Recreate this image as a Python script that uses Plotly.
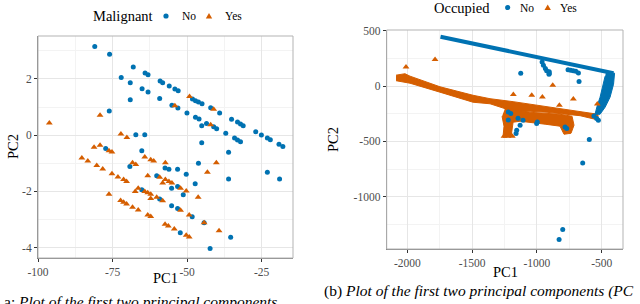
import plotly.graph_objects as go

# ---------------- Left panel data (Malignant) ----------------
mal_no_x = [-80.97, -76.0, -68.06, -72.1, -64.1, -63.1, -69.07, -65.1, -63.1, -59.06, -58.2, -59.2,
            -69.07, -76.1, -67.2, -64.2, -77.3, -56.0, -54.1, -53.0, -48.2, -47.2, -46.2, -45.0,
            -55.1, -53.1, -50.06, -47.2, -46.0, -42.1, -39.1, -45.1, -43.5, -41.1, -40.1, -35.1,
            -33.1, -32.1, -31.2, -37.05, -34.1, -33.1, -32.1, -27.0, -25.1, -23.1, -22.1, -19.2,
            -17.9, -45.1, -65.2, -69.2, -60.2, -57.4, -65.2, -59.2, -36.1, -46.2, -56.1, -53.2,
            -50.3, -36.1, -23.1, -19.0, -55.2, -53.2, -47.3, -51.3, -55.2, -53.2, -48.3, -44.3,
            -52.3, -35.4, -42.3]
mal_no_y = [3.16, 2.88, 2.43, 2.05, 2.21, 2.15, 1.87, 1.65, 1.54, 1.93, 1.87, 1.31,
            1.26, 0.86, 0.02, 0.02, -0.47, 1.75, 1.64, 1.58, 1.29, 1.23, 1.18, 1.12,
            1.07, 0.97, 0.79, 0.64, 0.58, 0.98, 0.79, 0.34, 0.42, 0.30, 0.23, 0.57,
            0.47, 0.40, 0.34, 0.07, -0.10, -0.17, -0.23, 0.12, 0.01, -0.10, -0.16, -0.32,
            -0.40, -0.27, -0.55, -1.11, -1.44, -1.17, -1.94, -2.27, -0.61, -1.00, -1.21, -1.21,
            -1.39, -1.56, -1.32, -1.56, -1.89, -1.83, -1.73, -2.12, -2.51, -2.61, -2.90, -3.12,
            -3.47, -3.63, -4.03]
mal_yes_x = [-96.2, -79.2, -72.2, -70.2, -81.2, -79.2, -49.2, -54.1, -41.1, -42.1, -76.2, -75.2,
             -64.2, -85.3, -83.3, -80.3, -78.3, -68.3, -67.2, -62.2, -61.2, -75.2, -73.2, -71.3,
             -70.3, -63.2, -59.2, -66.4, -67.4, -64.2, -63.2, -62.2, -62.2, -76.2, -72.3, -71.3,
             -70.3, -68.3, -66.4, -60.2, -63.2, -62.2, -57.4, -40.2, -43.2, -57.3, -58.2, -57.3,
             -56.1, -55.1, -52.2, -50.3, -46.3, -58.2, -52.2, -49.3, -44.3, -39.3, -56.3, -54.3,
             -50.3, -49.3]
mal_yes_y = [0.43, 0.71, 0.04, -0.08, -0.43, -0.36, 1.38, 1.05, 0.92, 0.37, -0.55, -0.60,
             -0.78, -0.81, -0.92, -1.08, -1.20, -0.98, -1.04, -0.87, -0.92, -1.37, -1.49, -1.58,
             -1.65, -1.44, -1.50, -1.89, -2.00, -2.00, -2.05, -2.10, -2.25, -2.10, -2.32, -2.39,
             -2.45, -2.56, -2.66, -2.21, -2.84, -2.89, -3.17, -0.98, -1.32, -0.98, -1.70, -1.58,
             -1.65, -1.70, -1.89, -1.99, -2.21, -2.33, -2.67, -2.84, -3.12, -3.40, -3.23, -3.34,
             -3.56, -3.62]

# ---------------- Right panel data (Occupied) ----------------
# dense bands traced as outlines
occ_no_band_x = [-1744, -409]
occ_no_band_y = [448, 118]
occ_no_vert_x = [-467, -401, -409, -436, -474, -513, -552, -548, -536, -513, -490, -474]
occ_no_vert_y = [127, 118, 18, -100, -190, -254, -254, -226, -181, -100, 18, 91]
occ_yes_band_x = [-2087, -2056, -2018, -1979, -1748, -1493, -1362, -1184, -922, -667, -567, -529,
                  -529, -552, -667, -922, -1053, -1184, -1362, -1493, -1748, -1979, -2087]
occ_yes_band_y = [100, 109, 113, 91, -5, -82, -113, -140, -186, -231, -245, -254,
                  -303, -299, -267, -236, -227, -227, -159, -145, -54, 27, 50]
occ_yes_blob_x = [-1246, -1053, -822, -729, -714, -737, -791, -822, -937, -1069, -1130, -1184,
                  -1192, -1200, -1262, -1254, -1269]
occ_yes_blob_y = [-199, -236, -254, -272, -353, -426, -435, -362, -344, -326, -317, -326,
                  -399, -462, -462, -362, -272]
# individual points
occ_no_x = [-1125, -907, -675, -960, -950, -935, -925, -905, -905, -760, -740, -720, -700, -680,
            -1221, -1221, -1156, -1161, -1146, -1130, -1107, -1002, -997, -783, -770, -596,
            -526, -560, -539, -1202, -647, -801, -829]
occ_no_y = [118, 109, 43, 220, 190, 160, 140, 130, 115, 150, 145, 140, 135, 120,
            -233, -305, -398, -429, -290, -353, -308, -338, -323, -369, -383, -483,
            -308, -270, -293, -247, -695, -1298, -1389]
occ_yes_x = [-2010, -1786, -1182, -1040, -958, -878, -719, -827, -534, -1254, -1190]
occ_yes_y = [175, 242, -75, -82, -97, 9, -115, -173, -160, -453, -453]

# ---------------- Axis ticks ----------------
l_xticks = [-100, -75, -50, -25]
l_yticks = [-4, -2, 0, 2]
r_xticks = [-2000, -1500, -1000, -500]
r_yticks = [-1000, -500, 0, 500]

BLUE = "#0072B2"
ORANGE = "#D55E00"
FONT = "Liberation Serif"

fig = go.Figure()

# Left panel
fig.add_trace(go.Scatter(x=mal_no_x, y=mal_no_y, mode="markers", name="No",
                         marker=dict(color=BLUE, size=5, symbol="circle"),
                         xaxis="x", yaxis="y", showlegend=False))
fig.add_trace(go.Scatter(x=mal_yes_x, y=mal_yes_y, mode="markers", name="Yes",
                         marker=dict(color=ORANGE, size=6, symbol="triangle-up"),
                         xaxis="x", yaxis="y", showlegend=False))

# Right panel
fig.add_trace(go.Scatter(x=occ_yes_band_x, y=occ_yes_band_y, mode="lines", fill="toself",
                         fillcolor=ORANGE, line=dict(color=ORANGE, width=1),
                         showlegend=False, hoverinfo="skip", xaxis="x2", yaxis="y2"))
fig.add_trace(go.Scatter(x=occ_yes_blob_x, y=occ_yes_blob_y, mode="lines", fill="toself",
                         fillcolor=ORANGE, line=dict(color=ORANGE, width=1),
                         showlegend=False, hoverinfo="skip", xaxis="x2", yaxis="y2"))
fig.add_trace(go.Scatter(x=occ_no_band_x, y=occ_no_band_y, mode="lines",
                         line=dict(color=BLUE, width=4),
                         showlegend=False, hoverinfo="skip", xaxis="x2", yaxis="y2"))
fig.add_trace(go.Scatter(x=occ_no_vert_x, y=occ_no_vert_y, mode="lines", fill="toself",
                         fillcolor=BLUE, line=dict(color=BLUE, width=1),
                         showlegend=False, hoverinfo="skip", xaxis="x2", yaxis="y2"))
fig.add_trace(go.Scatter(x=occ_no_x, y=occ_no_y, mode="markers", name="No",
                         marker=dict(color=BLUE, size=5, symbol="circle"),
                         xaxis="x2", yaxis="y2", showlegend=False))
fig.add_trace(go.Scatter(x=occ_yes_x, y=occ_yes_y, mode="markers", name="Yes",
                         marker=dict(color=ORANGE, size=6, symbol="triangle-up"),
                         xaxis="x2", yaxis="y2", showlegend=False))

W, H = 640, 304
def px(v): return v / W
def py(v): return 1 - v / H

axis_common = dict(showline=True, linecolor="#7f7f7f", linewidth=1, ticks="outside",
                   ticklen=3, tickcolor="#333333", tickwidth=1,
                   showgrid=True, gridcolor="#e6e6e6", gridwidth=1, zeroline=False,
                   tickfont=dict(family=FONT, size=11.5, color="#4d4d4d"))

def minor(d, t0):
    return dict(showgrid=True, gridcolor="#f3f3f3", gridwidth=1, dtick=d, tick0=t0)

# manual legend keys (symbols drawn as shapes in paper space)
def circle_key(cx, cy, r=2.6, color=BLUE):
    return dict(type="circle", xref="paper", yref="paper",
                x0=px(cx - r), x1=px(cx + r), y0=py(cy + r), y1=py(cy - r),
                fillcolor=color, line=dict(width=0))

def tri_key(cx, cy, s=3.2, color=ORANGE):
    path = "M {:.5f} {:.5f} L {:.5f} {:.5f} L {:.5f} {:.5f} Z".format(
        px(cx - s), py(cy + s * 0.8), px(cx + s), py(cy + s * 0.8), px(cx), py(cy - s * 0.9))
    return dict(type="path", xref="paper", yref="paper", path=path,
                fillcolor=color, line=dict(width=0))

def text(t, x, y, size, xanchor="left", angle=0, color="black"):
    return dict(text=t, xref="paper", yref="paper", x=px(x), y=py(y), showarrow=False,
                font=dict(family=FONT, size=size, color=color), xanchor=xanchor,
                yanchor="middle", textangle=angle)

fig.update_layout(
    width=W, height=H, margin=dict(l=0, r=0, t=0, b=0, autoexpand=False),
    paper_bgcolor="white", plot_bgcolor="white", showlegend=False,
    font=dict(family=FONT, color="black"),
    xaxis=dict(domain=[px(38), px(293)], range=[-100, -14.5], anchor="y",
               tickvals=l_xticks, ticktext=[str(v) for v in l_xticks],
               minor=minor(12.5, -100), **axis_common),
    yaxis=dict(domain=[py(258), py(36)], range=[-4.37, 3.53], anchor="x",
               tickvals=l_yticks, ticktext=[str(v) for v in l_yticks],
               minor=minor(1, -5), **axis_common),
    xaxis2=dict(domain=[px(386.7), px(623)], range=[-2159, -336], anchor="y2",
                tickvals=r_xticks, ticktext=[str(v) for v in r_xticks],
                minor=minor(250, -2000), **axis_common),
    yaxis2=dict(domain=[py(249), py(30)], range=[-1474, 509], anchor="x2",
                tickvals=r_yticks, ticktext=[str(v) for v in r_yticks],
                minor=minor(250, -1000), **axis_common),
    shapes=[
        dict(type="rect", xref="paper", yref="paper", x0=px(38), x1=px(293), y0=py(258), y1=py(36),
             line=dict(color="#b3b3b3", width=1), layer="above"),
        dict(type="rect", xref="paper", yref="paper", x0=px(386.7), x1=px(623), y0=py(249), y1=py(30),
             line=dict(color="#b3b3b3", width=1), layer="above"),
        circle_key(166, 16), tri_key(209, 16),
        circle_key(507.7, 7.5), tri_key(547.7, 7.5),
    ],
    annotations=[
        text("Malignant", 91, 16, 14.5),
        text("No", 179.5, 16, 11.5),
        text("Yes", 222.5, 16, 11.5),
        text("Occupied", 432, 7.5, 14.5),
        text("No", 517.5, 7.5, 11.5),
        text("Yes", 557.5, 7.5, 11.5),
        text("PC1", 165.5, 278, 14.5, xanchor="center"),
        text("PC2", 13, 147, 14.5, xanchor="center", angle=-90),
        text("PC1", 505, 271.5, 14.5, xanchor="center"),
        text("PC2", 333, 140, 14.5, xanchor="center", angle=-90),
        text("a: <i>Plot of the first two principal components</i>", 2, 301, 15.5),
        text("(b) <i>Plot of the first two principal components (PC</i>", 322, 291, 15.5),
    ],
)

fig.write_html("out.html",
               config={"displayModeBar": False, "staticPlot": True},
               post_script="document.body.style.margin='0';document.body.style.padding='0';")
